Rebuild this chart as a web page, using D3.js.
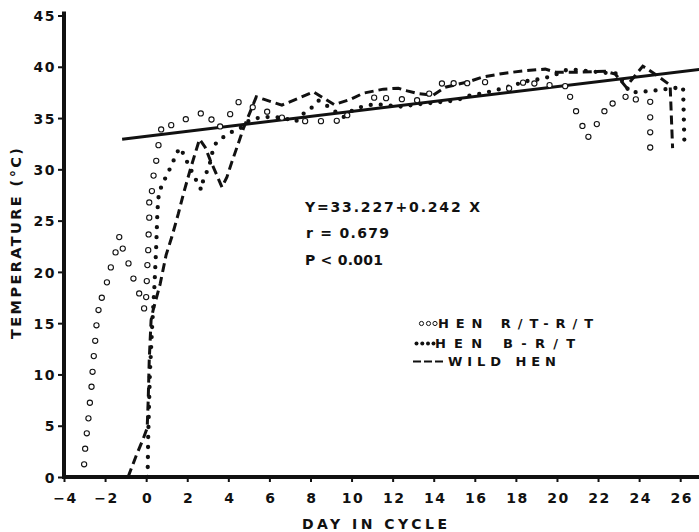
<!DOCTYPE html>
<html>
<head>
<meta charset="utf-8">
<script src="https://cdn.jsdelivr.net/npm/d3@7"></script>
<style>
  html, body { margin: 0; padding: 0; background: #fff; }
  svg { display: block; }
  text { font-family: "DejaVu Sans", "Liberation Sans", sans-serif; font-weight: bold; fill: #111; }
</style>
</head>
<body>
<svg id="chart" width="699" height="532"></svg>
<script>
// Hen R/T-R/T: individual readings (open circles)
const hollowDay = [-3.02,-2.97,-2.89,-2.81,-2.74,-2.66,-2.61,-2.55,-2.48,-2.42,-2.32,-2.16,-1.91,-1.72,-1.49,-1.31,-1.14,-0.86,-0.62,-0.34,-0.10,
  0.00,0.03,0.06,0.10,0.12,0.15,0.15,0.28,0.36,0.49,0.60,0.73,1.22,1.93,2.66,3.18,3.60,4.09,4.50,5.19,5.89,6.61,7.74,8.51,9.28,9.79,
  11.10,11.68,12.45,13.19,13.78,14.40,14.97,15.63,16.50,17.67,18.35,18.90,19.64,20.40,20.64,20.93,21.24,21.53,21.94,22.31,22.71,
  23.34,23.84,24.54,24.54,24.54,24.54];
const hollowTemp = [1.24,2.76,4.26,5.72,7.24,8.80,10.26,11.79,13.28,14.79,16.28,17.48,18.98,20.44,21.90,23.39,22.27,20.83,19.35,17.90,16.44,
  17.54,19.10,20.66,22.12,23.65,25.29,26.77,27.88,29.39,30.83,32.36,33.89,34.31,34.89,35.45,34.86,34.18,35.38,36.55,36.06,35.62,35.04,
  34.70,34.70,34.73,35.28,36.99,36.94,36.84,36.74,37.38,38.37,38.40,38.40,38.50,37.89,38.45,38.37,38.21,38.11,37.07,35.67,34.23,33.17,
  34.41,35.67,36.42,37.07,36.82,36.58,35.07,33.61,32.13];

// Hen B-R/T: continuous trace (dotted)
const dottedDay = [0.07,0.10,0.18,0.30,0.40,0.49,0.55,0.62,0.76,0.97,1.19,1.41,1.62,1.82,2.02,2.22,2.47,2.68,2.76,2.96,3.12,3.23,3.41,
  3.80,4.22,4.66,5.03,5.65,6.33,6.86,7.28,7.64,8.00,8.39,8.80,9.15,9.61,10.01,10.50,10.99,11.48,11.99,12.51,13.01,13.50,14.04,14.56,
  14.99,15.38,15.77,16.34,16.99,17.72,18.53,19.18,19.77,20.48,20.91,21.41,21.94,22.43,22.92,23.22,23.56,24.08,24.59,25.11,25.60,26.14,26.21];
const dottedTemp = [0.0,4.0,10.0,15.0,18.5,22.5,26.0,27.7,28.4,29.3,30.2,31.2,32.1,31.5,30.6,29.8,28.8,28.0,28.8,29.8,30.7,31.7,32.6,
  33.2,33.7,34.1,34.8,35.1,35.1,34.9,34.65,35.4,35.9,36.7,36.2,35.7,35.1,35.7,36.1,36.3,36.3,36.2,36.1,36.3,36.4,36.5,36.6,
  36.7,36.9,37.2,37.4,37.7,38.1,38.6,38.8,39.1,39.7,39.7,39.6,39.5,39.4,39.35,38.5,37.5,37.55,37.65,37.77,37.9,38.0,32.1];

// Wild hen: continuous trace (dashed)
const dashedDay = [-0.88,-0.49,-0.15,0.05,0.10,0.15,0.24,0.34,0.68,0.97,1.25,1.57,1.82,2.14,2.39,2.60,2.87,3.12,3.44,3.69,3.93,4.17,
  4.49,4.74,5.06,5.36,5.71,6.61,8.15,9.15,9.93,10.58,11.55,12.28,12.71,13.19,13.97,14.56,15.68,16.36,17.38,18.35,19.43,19.96,
  21.13,22.35,22.84,23.36,24.18,24.78,25.51,25.63];
const dashedTemp = [0.00,2.05,3.70,4.78,7.50,11.40,15.30,16.28,18.81,21.64,23.42,25.70,27.65,29.92,31.58,32.94,32.16,30.90,29.43,28.27,
  29.24,30.70,32.55,34.02,35.58,37.07,36.84,36.26,37.55,36.31,36.81,37.43,37.82,37.91,37.65,37.40,37.23,38.01,38.53,38.99,39.35,
  39.60,39.77,39.47,39.47,39.57,39.28,38.04,40.06,39.28,38.21,32.07];

// Linear regression of temperature on day
const regIntercept = 33.227;
const regSlope = 0.242;
const regDayRange = [-1.17, 27];

const xTicks = [-4,-2,0,2,4,6,8,10,12,14,16,18,20,22,24,26];
const yTicks = [0,5,10,15,20,25,30,35,40,45];
const statLines = ["Y=33.227+0.242 X", "r = 0.679", "P < 0.001"];
const legendLabels = ["HEN R/T-R/T", "HEN B-R/T", "WILD HEN"];
const xTitle = "DAY IN CYCLE";
const yTitle = "TEMPERATURE (°C)";

const svg = d3.select("#chart");
const x = d3.scaleLinear().domain([-4, 27]).range([64, 64 + 31 * 20.54]);
const y = d3.scaleLinear().domain([0, 45]).range([477, 15.5]);

const toPts = (xs, ys) => xs.map((d, i) => [d, ys[i]]);
const line = d3.line().x(d => x(d[0])).y(d => y(d[1]));

function styleTickText(sel) {
  sel.style("font-size", "14px").style("letter-spacing", "1.5px").attr("fill", "#111")
    .style("font-family", "DejaVu Sans, Liberation Sans, sans-serif").style("font-weight", "bold");
}

// Axes: ticks and labels from d3 axes, heavy axis lines drawn separately
const gx = svg.append("g").attr("transform", `translate(0,${y(0)})`)
  .call(d3.axisBottom(x).tickValues(xTicks).tickSize(5).tickSizeOuter(0).tickFormat(d3.format("d")));
gx.select(".domain").remove();
gx.selectAll(".tick line").attr("stroke", "#111").attr("stroke-width", 2);
gx.selectAll(".tick text").attr("y", 26).attr("dx", "1px").attr("dy", 0).call(styleTickText);

const gy = svg.append("g").attr("transform", `translate(${x(-4)},0)`)
  .call(d3.axisLeft(y).tickValues(yTicks).tickSize(6).tickSizeOuter(0).tickFormat(d3.format("d")));
gy.select(".domain").remove();
gy.selectAll(".tick line").attr("stroke", "#111").attr("stroke-width", 2);
gy.selectAll(".tick text").attr("x", -8).attr("dy", "0.37em").call(styleTickText);

svg.append("line").attr("x1", x(-4)).attr("x2", x(-4)).attr("y1", y(45.4)).attr("y2", y(0) + 2)
  .attr("stroke", "#111").attr("stroke-width", 4);
svg.append("line").attr("x1", x(-4) - 2).attr("x2", x(27)).attr("y1", y(0)).attr("y2", y(0))
  .attr("stroke", "#111").attr("stroke-width", 4);

// Axis titles
svg.append("text").attr("x", 302).attr("y", 529).attr("textLength", 145).attr("lengthAdjust", "spacing")
  .style("font-size", "14px").text(xTitle);
svg.append("text").attr("transform", "translate(21,339) rotate(-90)").attr("textLength", 191)
  .attr("lengthAdjust", "spacing").style("font-size", "14.5px").text(yTitle);

// Regression line
svg.append("path")
  .attr("d", line(regDayRange.map(d => [d, regIntercept + regSlope * d])))
  .attr("fill", "none").attr("stroke", "#111").attr("stroke-width", 3);

// Wild hen (dashed)
svg.append("path").attr("d", line(toPts(dashedDay, dashedTemp)))
  .attr("fill", "none").attr("stroke", "#111").attr("stroke-width", 3)
  .attr("stroke-dasharray", "9 5");

// Hen B-R/T (dotted)
svg.append("path").attr("d", line(toPts(dottedDay, dottedTemp)))
  .attr("fill", "none").attr("stroke", "#111").attr("stroke-width", 4.3)
  .attr("stroke-linecap", "round").attr("stroke-dasharray", "0 10");

// Hen R/T-R/T (open circles)
svg.append("g").selectAll("circle").data(toPts(hollowDay, hollowTemp)).join("circle")
  .attr("cx", d => x(d[0])).attr("cy", d => y(d[1])).attr("r", 2.6)
  .attr("fill", "#fff").attr("stroke", "#111").attr("stroke-width", 1.1);

// Regression statistics
const statX = [305, 306, 305];
const statY = [212, 238, 265];
const statW = [175, 83, 78];
svg.append("g").selectAll("text").data(statLines).join("text")
  .attr("x", (d, i) => statX[i]).attr("y", (d, i) => statY[i])
  .attr("textLength", (d, i) => statW[i]).attr("lengthAdjust", "spacing")
  .style("font-size", "14px").text(d => d);

// Legend
const lg = svg.append("g");
const legY = [328, 348, 366];
const legX = [438, 435, 448];
const legW = [155, 140, 108];
lg.selectAll("text").data(legendLabels).join("text")
  .attr("x", (d, i) => legX[i]).attr("y", (d, i) => legY[i])
  .attr("textLength", (d, i) => legW[i]).attr("lengthAdjust", "spacing")
  .style("font-size", "13px").text(d => d);
lg.selectAll("circle.open").data([421.5, 428.5, 435]).join("circle").attr("class", "open")
  .attr("cx", d => d).attr("cy", 323.5).attr("r", 2.1)
  .attr("fill", "#fff").attr("stroke", "#111").attr("stroke-width", 1);
lg.selectAll("circle.fill").data([416.5, 422.3, 428, 433.5]).join("circle").attr("class", "fill")
  .attr("cx", d => d).attr("cy", 343.5).attr("r", 2).attr("fill", "#111");
lg.append("line").attr("x1", 413).attr("x2", 443).attr("y1", 361.5).attr("y2", 361.5)
  .attr("stroke", "#111").attr("stroke-width", 2.2).attr("stroke-dasharray", "8 3");
</script>
</body>
</html>
